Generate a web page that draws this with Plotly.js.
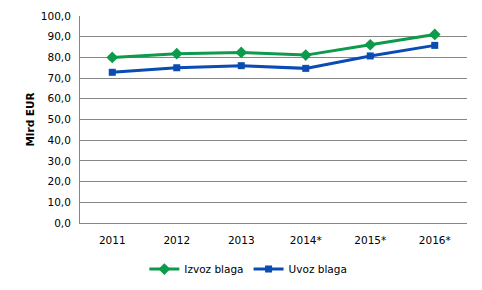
<!DOCTYPE html>
<html><head><meta charset="utf-8">
<script src="https://cdn.plot.ly/plotly-3.0.1.min.js"></script>
<style>html,body{margin:0;padding:0;background:#fff}#c{width:482px;height:290px}</style>
</head><body><div id="c"></div>
<script>
const years = ['2011','2012','2013','2014*','2015*','2016*'];
const izvoz = [80.0, 81.8, 82.4, 81.1, 86.1, 91.1];
const uvoz = [72.8, 75.0, 76.0, 74.7, 80.7, 85.8];
const seriesNames = ['Izvoz blaga','Uvoz blaga'];

const green = '#0C9A4B', blue = '#0A4BB4';
const traces = [
  {x: years, y: izvoz, name: seriesNames[0], type: 'scatter', mode: 'lines+markers',
   line: {color: green, width: 3}, marker: {symbol: 'diamond', size: 9, color: green}},
  {x: years, y: uvoz, name: seriesNames[1], type: 'scatter', mode: 'lines+markers',
   line: {color: blue, width: 3}, marker: {symbol: 'square', size: 7, color: blue}}
];
const font = {family: 'DejaVu Sans, Verdana, sans-serif', size: 10.5, color: '#000'};
const layout = {
  width: 482, height: 290,
  margin: {l: 80, r: 15, t: 16, b: 67, autoexpand: false},
  paper_bgcolor: '#fff', plot_bgcolor: '#fff',
  font: font,
  separators: ',.',
  showlegend: true,
  legend: {orientation: 'h', x: 0.435, xanchor: 'center', yref: 'container', y: 0.072, yanchor: 'middle',
    font: font, itemwidth: 30, tracegroupgap: 0},
  xaxis: {type: 'category', range: [-0.5, 5.5], showgrid: false, showline: true,
    linecolor: '#868686', linewidth: 1, ticks: '', tickfont: font, fixedrange: true,
    ticklabelstandoff: 7, automargin: false},
  yaxis: {range: [0, 100], dtick: 10, tickformat: '.1f', showgrid: true, gridcolor: '#868686',
    gridwidth: 1, showline: true, linecolor: '#868686', zeroline: false, ticks: '',
    tickfont: font, ticklabelstandoff: 6, automargin: false,
    title: {text: '<b>Mlrd EUR</b>', font: {family: 'DejaVu Sans, Verdana, sans-serif', size: 10.5, color: '#000'}, standoff: 4}}
};
Plotly.newPlot('c', traces, layout, {staticPlot: true});
</script></body></html>
